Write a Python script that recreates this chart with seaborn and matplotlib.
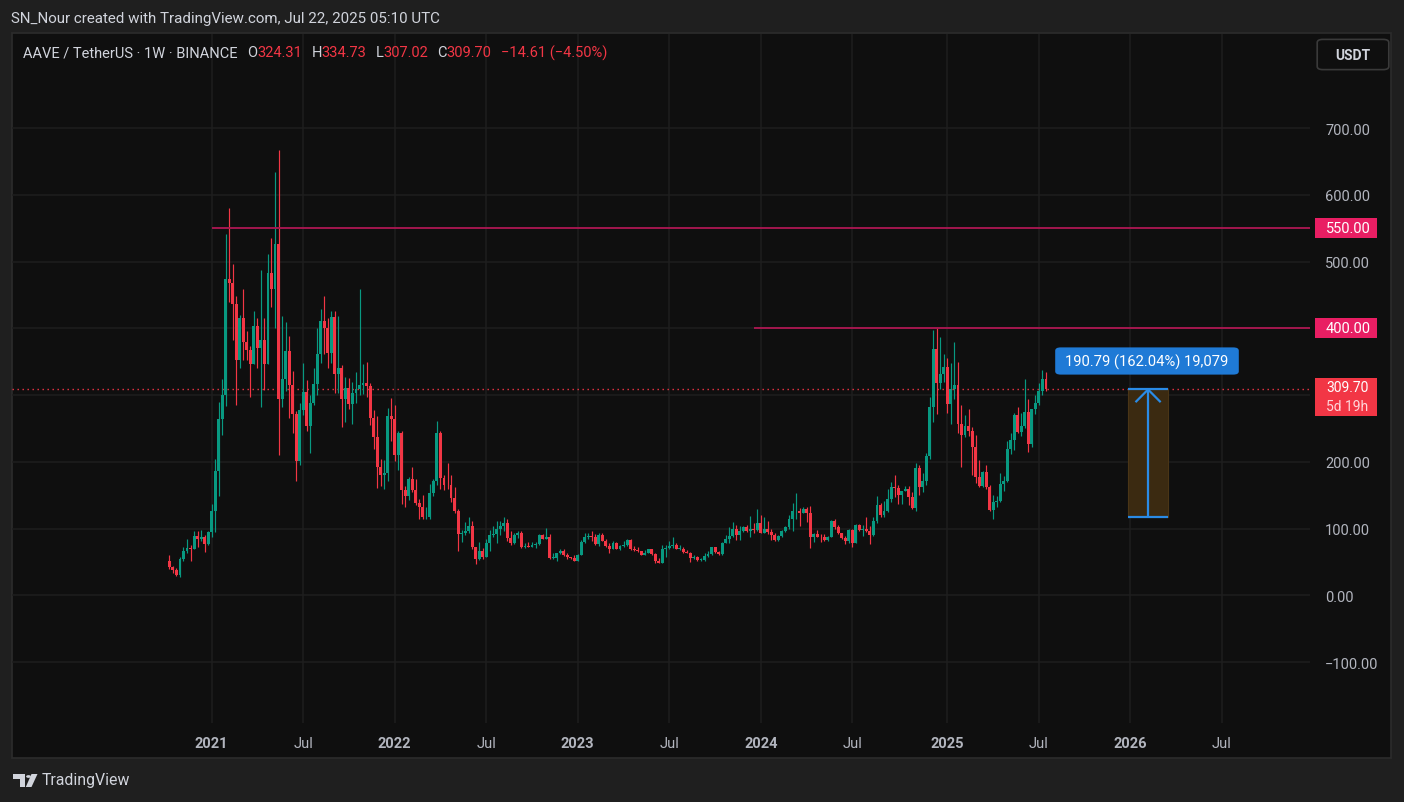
import numpy as np
import pandas as pd
import seaborn as sns
import matplotlib.pyplot as plt
import matplotlib.dates as mdates
import matplotlib.transforms as transforms
from matplotlib.patches import Rectangle, FancyBboxPatch, Circle, Polygon

# AAVE / USDT weekly candles (first week = 2020-10-12)
first_open = 52.0
close = [42, 38, 31, 55, 66, 71, 70, 89, 85, 87,
         77, 95, 127, 187, 265, 300, 474, 468, 437, 353,
         415, 380, 367, 347, 403, 371, 383, 347, 483, 459,
         527, 294, 324, 366, 316, 272, 202, 278, 305, 254,
         289, 317, 362, 411, 401, 363, 417, 332, 341, 294,
         311, 287, 304, 309, 315, 319, 314, 266, 238, 192,
         180, 184, 269, 264, 210, 244, 158, 149, 175, 158,
         138, 132, 117, 118, 154, 171, 244, 176, 166, 165,
         146, 126, 92, 94, 96, 104, 72, 55, 66, 58,
         79, 91, 92, 99, 104, 108, 86, 78, 91, 93,
         72, 74, 73, 76, 77, 91, 85, 88, 56, 56,
         63, 67, 60, 57, 56, 52, 61, 80, 87, 89,
         87, 77, 90, 82, 74, 70, 79, 70, 74, 75,
         83, 69, 68, 66, 61, 64, 69, 62, 51, 49,
         69, 71, 74, 76, 70, 70, 65, 64, 56, 58,
         53, 53, 59, 62, 72, 65, 62, 79, 84, 89,
         99, 90, 97, 102, 96, 99, 98, 109, 94, 100,
         95, 90, 83, 89, 96, 102, 114, 126, 127, 124,
         130, 123, 87, 92, 88, 87, 83, 88, 111, 102,
         93, 86, 81, 98, 79, 106, 98, 100, 97, 90,
         112, 136, 120, 127, 144, 162, 161, 150, 156, 159,
         147, 131, 191, 162, 172, 209, 283, 369, 318, 332,
         342, 287, 309, 316, 257, 241, 254, 246, 223, 178,
         164, 185, 162, 128, 140, 142, 167, 172, 220, 233,
         270, 245, 254, 275, 227, 279, 288, 306, 324.31, 309.70]
high = [60, 44, 41, 57, 72, 84, 76, 96, 96, 98,
        90, 96, 137, 205, 290, 324, 542, 580, 497, 448,
        420, 459, 396, 374, 426, 415, 488, 415, 512, 535,
        634, 668, 418, 409, 388, 336, 277, 288, 348, 323,
        300, 340, 400, 429, 448, 415, 426, 426, 418, 345,
        327, 326, 320, 335, 459, 347, 350, 318, 278, 269,
        205, 203, 281, 296, 286, 247, 246, 164, 178, 193,
        175, 145, 151, 132, 167, 175, 262, 246, 181, 199,
        180, 163, 130, 98, 110, 117, 112, 72, 80, 71,
        85, 98, 104, 111, 111, 117, 114, 97, 93, 97,
        97, 79, 80, 80, 80, 92, 92, 101, 92, 64,
        64, 69, 69, 64, 58, 60, 62, 83, 93, 93,
        96, 92, 94, 93, 84, 78, 81, 80, 76, 81,
        84, 85, 74, 72, 67, 68, 70, 70, 64, 56,
        76, 76, 81, 87, 79, 75, 72, 68, 65, 60,
        59, 56, 63, 66, 73, 73, 67, 80, 90, 102,
        110, 105, 104, 104, 105, 119, 108, 130, 120, 117,
        112, 100, 93, 90, 98, 104, 120, 139, 154, 131,
        133, 133, 134, 93, 98, 92, 92, 89, 113, 115,
        106, 94, 89, 100, 100, 107, 107, 105, 118, 104,
        118, 149, 138, 142, 160, 170, 181, 165, 157, 164,
        164, 155, 199, 196, 184, 214, 297, 397, 400, 387,
        361, 355, 348, 379, 349, 285, 270, 279, 252, 241,
        203, 186, 196, 166, 150, 149, 183, 179, 231, 244,
        273, 283, 274, 324, 295, 280, 300, 319, 337, 334.73]
low = [40, 34, 29, 28, 52, 63, 52, 69, 73, 82,
       65, 76, 88, 95, 149, 240, 284, 440, 382, 286,
       341, 352, 352, 298, 346, 341, 282, 308, 346, 432,
       400, 210, 282, 306, 266, 243, 171, 195, 270, 246,
       214, 285, 301, 348, 362, 341, 348, 304, 304, 253,
       260, 280, 257, 289, 300, 302, 297, 256, 219, 161,
       164, 160, 171, 231, 201, 188, 137, 133, 143, 155,
       135, 114, 114, 114, 114, 149, 166, 159, 158, 159,
       140, 124, 67, 80, 90, 93, 70, 47, 53, 55,
       57, 67, 88, 78, 91, 96, 82, 76, 77, 86,
       71, 71, 72, 72, 71, 76, 84, 84, 55, 54,
       52, 62, 59, 55, 55, 51, 51, 60, 79, 85,
       81, 76, 74, 81, 72, 63, 69, 69, 68, 73,
       74, 68, 66, 65, 60, 60, 63, 61, 48, 48,
       48, 58, 70, 71, 69, 68, 63, 63, 50, 55,
       52, 51, 52, 57, 60, 64, 61, 60, 78, 78,
       88, 83, 83, 95, 95, 88, 94, 97, 93, 93,
       92, 83, 82, 82, 88, 95, 99, 96, 114, 104,
       123, 110, 71, 80, 87, 80, 82, 82, 87, 100,
       92, 84, 77, 79, 73, 78, 97, 89, 95, 77,
       89, 109, 118, 117, 125, 140, 147, 137, 137, 156,
       135, 130, 127, 151, 155, 165, 205, 260, 272, 309,
       320, 273, 257, 295, 244, 193, 238, 239, 180, 168,
       162, 162, 160, 126, 114, 132, 140, 156, 170, 212,
       218, 244, 239, 251, 215, 223, 272, 285, 301, 307.02]

tick_dates = ["2021-01-04", "2021-07-05", "2022-01-03", "2022-07-04", "2023-01-02", "2023-07-03",
              "2024-01-01", "2024-07-01", "2025-01-06", "2025-07-07", "2026-01-05", "2026-07-06"]
tick_labels = ["2021", "Jul", "2022", "Jul", "2023", "Jul", "2024", "Jul", "2025", "Jul", "2026", "Jul"]
price_ticks = [-100, 0, 100, 200, 300, 400, 500, 600, 700]
hidden_ticks = [300, 400]  # covered by the price / level labels
level_values = [550.0, 400.0]
level_starts = ["2021-01-04", "2023-12-18"]
measure_low = 117.74
measure_high = 308.53
measure_dates = ["2025-12-31", "2026-03-21"]
measure_text = "190.79 (162.04%) 19,079"

UP = "#089981"
DOWN = "#f23645"
PANE = "#0f0f0f"
FRAME = "#1f1f1f"
GRID = "#1e1e1e"
TXT = "#b2b5be"
LEVEL = "#a3174e"
LEVEL_BOX = "#e91e63"
BLUE = "#2a8be6"

W, H = 1404, 803

df = pd.DataFrame({"date": pd.date_range("2020-10-12", periods=len(close), freq="7D"),
                   "close": close, "high": high, "low": low})
df["open"] = [first_open] + close[:-1]
df["x"] = mdates.date2num(df["date"])
df["color"] = np.where(df["close"] >= df["open"], UP, DOWN)
df["body_lo"] = df[["open", "close"]].min(axis=1)
df["body_h"] = (df["close"] - df["open"]).abs().clip(lower=1.2)

sns.set_theme(style="dark", rc={"axes.facecolor": PANE, "figure.facecolor": FRAME,
                                "grid.color": GRID, "axes.edgecolor": PANE})
plt.rcParams["font.family"] = ["Roboto", "DejaVu Sans"]


def fx(px):
    return px / W


def fy(py):
    return 1 - py / H


fig = plt.figure(figsize=(W / 100, H / 100), dpi=100)
fig.patch.set_facecolor(FRAME)

# chart pane
fig.add_artist(Rectangle((fx(12), fy(759)), fx(1391) - fx(12), fy(34) - fy(759),
                         transform=fig.transFigure, facecolor=PANE, edgecolor="#2c2c2c",
                         lw=1.2, zorder=-5))

ax = fig.add_axes([fx(12), fy(724), fx(1310) - fx(12), fy(35) - fy(724)])
ax.patch.set_visible(False)

# candles
ax.vlines(df["x"], df["low"], df["high"], colors=df["color"], lw=0.85, zorder=3)
ax.bar(df["x"], df["body_h"], bottom=df["body_lo"], width=5.8, color=df["color"],
       lw=0, zorder=4)

xmin = mdates.date2num(pd.Timestamp("2019-12-04"))
xmax = mdates.date2num(pd.Timestamp("2026-12-28"))
ax.set_xlim(xmin, xmax)
ax.set_ylim(-191, 841)

# axes, grid
ax.set_xticks(mdates.date2num(pd.to_datetime(tick_dates)))
ax.set_xticklabels(tick_labels)
for lab in ax.get_xticklabels():
    if lab.get_text() != "Jul":
        lab.set_fontweight("bold")
        lab.set_color("#c8cad0")
ax.yaxis.tick_right()
ax.set_yticks(price_ticks)
ax.set_yticklabels(["" if v in hidden_ticks else f"{v:.2f}".replace("-", "\u2212")
                    for v in price_ticks])
ax.tick_params(axis="x", length=0, pad=9, labelsize=10.5, colors=TXT)
ax.tick_params(axis="y", length=0, pad=10.8, labelsize=10.5, colors=TXT)
ax.grid(True, color=GRID, lw=1.1)
for s in ax.spines.values():
    s.set_visible(False)
ax.set_xlabel("")
ax.set_ylabel("")

# horizontal levels
for v, start in zip(level_values, level_starts):
    ax.hlines(v, mdates.date2num(pd.Timestamp(start)), xmax, color=LEVEL, lw=1.4, zorder=5)

# last price dotted line
last = close[-1]
ax.axhline(last, color=DOWN, lw=1, ls=(0, (1, 2.6)), zorder=2)

# price scale labels
trans = transforms.blended_transform_factory(ax.transAxes, ax.transData)


def ax_x(px):
    return (px - 12) / 1298


unit = 1032 / 689  # price units per pixel
for v in level_values:
    ax.add_patch(Rectangle((ax_x(1315), v - 10 * unit), ax_x(1377) - ax_x(1315), 20 * unit,
                           transform=trans, facecolor=LEVEL_BOX, lw=0, clip_on=False, zorder=6))
    ax.text(ax_x(1326), v, f"{v:.2f}", transform=trans, color="white", fontsize=10.5,
            va="center", ha="left", clip_on=False, zorder=7)
ax.add_patch(Rectangle((ax_x(1315), last - 27 * unit), ax_x(1377) - ax_x(1315), 38 * unit,
                       transform=trans, facecolor=DOWN, lw=0, clip_on=False, zorder=6))
ax.text(ax_x(1326), last + 1.5 * unit, f"{last:.2f}", transform=trans, color="white",
        fontsize=10, va="center", ha="left", clip_on=False, zorder=7)
ax.text(ax_x(1326), last - 17.5 * unit, "5d 19h", transform=trans, color="#ffd6da",
        fontsize=10, va="center", ha="left", clip_on=False, zorder=7)

# measure tool
m0, m1 = mdates.date2num(pd.to_datetime(measure_dates))
mc = (m0 + m1) / 2
ax.add_patch(Rectangle((m0, measure_low), m1 - m0, measure_high - measure_low,
                       facecolor="#3b2a11", edgecolor="#4a3516", lw=0.8, zorder=5))
ax.vlines(mc, measure_low, measure_high, color=BLUE, lw=1.6, zorder=6)
ax.hlines([measure_low, measure_high], m0, m1, color=BLUE, lw=1.6, zorder=6)
ax.plot([mc - 25, mc, mc + 25], [measure_high - 19, measure_high, measure_high - 19],
        color=BLUE, lw=1.6, zorder=6, solid_capstyle="butt")

fig.add_artist(FancyBboxPatch((fx(1058), fy(374)), fx(1236) - fx(1058), fy(350) - fy(374),
                              boxstyle="round,pad=0.002,rounding_size=0.004",
                              transform=fig.transFigure, facecolor="#1f7ad6", lw=0, zorder=10))
fig.text(fx(1147), fy(362), measure_text, color="white", fontsize=10.6, ha="center",
         va="center", zorder=11)

# USDT button
fig.add_artist(FancyBboxPatch((fx(1320), fy(69)), fx(1386) - fx(1320), fy(42) - fy(69),
                              boxstyle="round,pad=0.002,rounding_size=0.004",
                              transform=fig.transFigure, facecolor=PANE, edgecolor="#3a3a3a",
                              lw=1.2, zorder=10))
fig.text(fx(1353), fy(55.5), "USDT", color="#d1d4dc", fontsize=10, ha="center", va="center",
         fontweight="bold", zorder=11)

# header and legend
fig.text(fx(11), fy(19), "SN_Nour created with TradingView.com, Jul 22, 2025 05:10 UTC",
         color="#d1d4dc", fontsize=10.9, va="center")

o = df["open"].iloc[-1]
chg = last - o
legend_parts = [("AAVE / TetherUS \u00b7 1W \u00b7 BINANCE", "#d1d4dc", 10),
                ("O", "#d1d4dc", 0), (f"{o:.2f}", DOWN, 9),
                ("H", "#d1d4dc", 0), (f"{high[-1]:.2f}", DOWN, 9),
                ("L", "#d1d4dc", 0), (f"{low[-1]:.2f}", DOWN, 9),
                ("C", "#d1d4dc", 0), (f"{last:.2f}", DOWN, 9),
                (f"{chg:.2f} ({chg / o * 100:.2f}%)".replace("-", "\u2212"), DOWN, 0)]
renderer = fig.canvas.get_renderer()
xpos = 23
for txt, col, gap in legend_parts:
    t = fig.text(fx(xpos), fy(53), txt, color=col, fontsize=10.5, va="center")
    xpos += t.get_window_extent(renderer).width + gap

# TradingView logo
logo = "#d1d4dc"
fig.add_artist(Polygon([[fx(13), fy(775)], [fx(25), fy(775)], [fx(25), fy(788)],
                        [fx(19.5), fy(788)], [fx(19.5), fy(780)], [fx(13), fy(780)]],
                       closed=True, transform=fig.transFigure, facecolor=logo, lw=0))
fig.add_artist(Circle((fx(28.5), fy(777.5)), 2.4 / W, transform=fig.transFigure,
                      facecolor=logo, lw=0))
fig.add_artist(Polygon([[fx(31.5), fy(775)], [fx(37.5), fy(775)], [fx(31.5), fy(788)],
                        [fx(25.8), fy(788)]],
                       closed=True, transform=fig.transFigure, facecolor=logo, lw=0))
fig.text(fx(42), fy(781), "TradingView", color=logo, fontsize=11.4, va="center")

fig.savefig("out.png", dpi=100, facecolor=FRAME)
